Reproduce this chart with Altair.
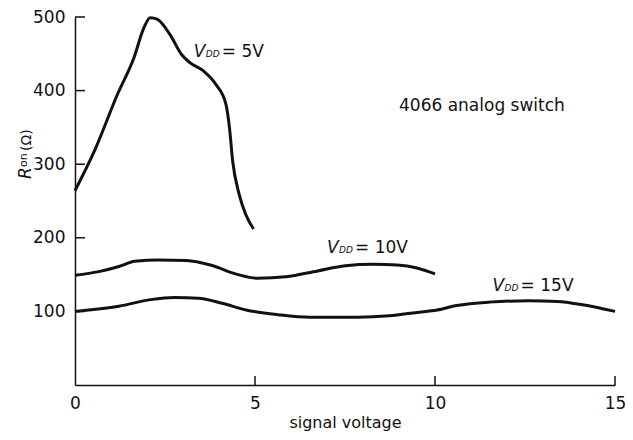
import altair as alt
import pandas as pd

# ---- data ----
v5_x = [0, 0.54, 1.18, 1.64, 1.91, 2.09, 2.28, 2.64, 2.96, 3.19, 3.56, 3.92, 4.19, 4.29, 4.38, 4.56, 4.74, 4.96]
v5_y = [264, 318, 395, 445, 485, 499, 497, 476, 449, 438, 427, 408, 382, 350, 304, 259, 232, 212]

v10_x = [0, 0.66, 1.22, 1.66, 2.32, 3.09, 3.76, 4.53, 5.08, 5.86, 6.74, 7.51, 8.29, 8.95, 9.5, 10]
v10_y = [149, 154, 161, 168, 170, 169, 163, 150, 145, 147, 155, 162, 164, 163, 159, 151]

v15_x = [0, 1.22, 2.1, 2.76, 3.43, 4.09, 4.75, 5.64, 6.52, 7.85, 8.73, 9.5, 10.06, 10.6, 11.5, 12.6, 13.4, 14.1, 15]
v15_y = [100, 107, 116, 119, 118, 111, 102, 95.5, 92, 92, 94, 98.6, 102, 108, 112.6, 114.4, 113.5, 109, 100]

x_ticks = [0, 5, 10, 15]
y_ticks = [100, 200, 300, 400, 500]

label_x = [3.3, 7.0, 11.6]
label_y = [446, 180, 128]
label_rest = ["= 5V", "= 10V", "= 15V"]

note_text = ["4066 analog switch"]
note_x = [9.0]
note_y = [372]

ytitle_x = [-1.22]
ytitle_y = [280]

FONT = "DejaVu Sans"
INK = "#111111"

rows = []
for name, xs_, ys_ in [("5", v5_x, v5_y), ("10", v10_x, v10_y), ("15", v15_x, v15_y)]:
    for a, b in zip(xs_, ys_):
        rows.append({"series": name, "v": a, "r": b})
curves = pd.DataFrame(rows)

xs = alt.Scale(domain=[0, 15], nice=False)
ys = alt.Scale(domain=[0, 500], nice=False)

PH = 368

lines = alt.Chart(curves).mark_line(
    interpolate="monotone", color=INK, strokeWidth=3
).encode(
    x=alt.X("v:Q", scale=xs, axis=alt.Axis(
        values=x_ticks, title="signal voltage", tickSize=0, grid=False,
        labelFlush=False, labelPadding=10, labelFontSize=17, labelFont=FONT,
        labelColor=INK, titleFont=FONT, titleFontSize=16, titleFontWeight="normal",
        titleColor=INK, titlePadding=3, domainColor=INK, domainWidth=1.5)),
    y=alt.Y("r:Q", scale=ys, axis=alt.Axis(
        values=y_ticks, title=None, tickSize=0, grid=False,
        labelPadding=10, labelFontSize=17, labelFont=FONT, labelColor=INK,
        domainColor=INK, domainWidth=1.5)),
    detail="series:N",
)

yt = pd.DataFrame({"t": y_ticks})
ytick_rules = alt.Chart(yt).mark_rule(color=INK, strokeWidth=1.5).encode(
    y=alt.Y("t:Q", scale=ys), x=alt.value(0), x2=alt.value(10)
)
xt = pd.DataFrame({"t": x_ticks[1:]})
xtick_rules = alt.Chart(xt).mark_rule(color=INK, strokeWidth=1.5).encode(
    x=alt.X("t:Q", scale=xs), y=alt.value(PH), y2=alt.value(PH - 9)
)

lab = pd.DataFrame({"x": label_x, "y": label_y, "rest": label_rest,
                    "V": ["V"] * 3, "DD": ["DD"] * 3})
base_lab = alt.Chart(lab).encode(x=alt.X("x:Q", scale=xs), y=alt.Y("y:Q", scale=ys))
lab_V = base_lab.mark_text(align="left", baseline="alphabetic", font=FONT, fontSize=17,
                           fontStyle="italic", color=INK).encode(text="V:N")
lab_DD = base_lab.mark_text(align="left", baseline="alphabetic", font=FONT, fontSize=9,
                            fontStyle="italic", color=INK, dx=12).encode(text="DD:N")
lab_rest = base_lab.mark_text(align="left", baseline="alphabetic", font=FONT, fontSize=17,
                              color=INK, dx=28).encode(text="rest:N")

note = alt.Chart(pd.DataFrame({"x": note_x, "y": note_y, "t": note_text})).mark_text(
    align="left", baseline="alphabetic", font=FONT, fontSize=17, color=INK
).encode(x=alt.X("x:Q", scale=xs), y=alt.Y("y:Q", scale=ys), text="t:N")

ytd = pd.DataFrame({"x": ytitle_x, "y": ytitle_y, "R": ["R"], "on": ["on"], "om": ["(Ω)"]})
ybase = alt.Chart(ytd).encode(x=alt.X("x:Q", scale=xs), y=alt.Y("y:Q", scale=ys))
y_R = ybase.mark_text(align="left", baseline="alphabetic", angle=270, font=FONT, fontSize=17,
                      fontStyle="italic", color=INK).encode(text="R:N")
y_on = ybase.mark_text(align="left", baseline="alphabetic", angle=270, font=FONT, fontSize=11,
                       color=INK, dx=12, dy=-4).encode(text="on:N")
y_om = ybase.mark_text(align="left", baseline="alphabetic", angle=270, font=FONT, fontSize=14,
                       color=INK, dx=28).encode(text="om:N")

chart = alt.layer(
    lines, ytick_rules, xtick_rules, lab_V, lab_DD, lab_rest, note, y_R, y_on, y_om
).properties(
    width=540, height=PH,
    autosize=alt.AutoSizeParams(type="none"),
    padding={"left": 67, "top": 9, "right": 10, "bottom": 46},
    background="white",
).configure_view(stroke=None)

chart.save("out.html", embed_options={"renderer": "svg", "actions": False})
